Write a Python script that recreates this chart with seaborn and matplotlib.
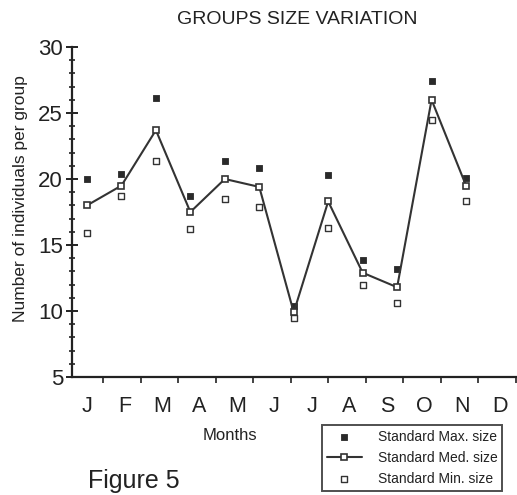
import numpy as np
import pandas as pd
import seaborn as sns
import matplotlib.pyplot as plt
from matplotlib.ticker import MultipleLocator, FixedLocator

# values
months = ["J", "F", "M", "A", "M", "J", "J", "A", "S", "O", "N", "D"]
max_size = [20.0, 20.4, 26.1, 18.7, 21.4, 20.8, 10.4, 20.3, 13.9, 13.2, 27.4, 20.1]
med_size = [18.0, 19.5, 23.7, 17.5, 20.0, 19.4, 9.9, 18.3, 12.9, 11.8, 26.0, 19.5]
min_size = [15.9, 18.7, 21.4, 16.2, 18.5, 17.9, 9.5, 16.3, 12.0, 10.6, 24.5, 18.3]

df = pd.DataFrame(
    {
        "idx": np.arange(len(months)),
        "max": max_size,
        "med": med_size,
        "min": min_size,
    }
)

sns.set_style("ticks")
plt.rcParams["font.family"] = ["Liberation Sans", "DejaVu Sans"]

ink = "#222222"

fig = plt.figure(figsize=(5.17, 4.95), dpi=100)
ax = fig.add_axes([72 / 517, 1 - 377 / 495, 444 / 517, 330 / 495])

# month axis (labels sit on a slightly wider grid than the points)
ax.set_xlim(-0.4, 11.44)
ax.set_ylim(5, 30)
ax.set_xticks(range(len(months)))
ax.set_xticklabels(months, fontsize=15.5, color=ink)
ax.xaxis.set_minor_locator(FixedLocator([i + 0.43 for i in range(12)]))
ax.tick_params(axis="x", which="major", length=0, pad=14)
ax.tick_params(axis="x", which="minor", length=4, width=1.2, direction="out", color=ink)

ax.yaxis.set_major_locator(MultipleLocator(5))
ax.yaxis.set_minor_locator(MultipleLocator(1))
ax.tick_params(axis="y", which="major", length=9, width=1.4, direction="inout",
               labelsize=16, pad=2, color=ink, labelcolor=ink)
ax.tick_params(axis="y", which="minor", length=5, width=1.2, direction="inout", color=ink)

for s in ["top", "right"]:
    ax.spines[s].set_visible(False)
for s in ["left", "bottom"]:
    ax.spines[s].set_linewidth(1.6)
    ax.spines[s].set_color(ink)

ax.set_xlabel("Months", fontsize=12, color=ink)
ax.xaxis.set_label_coords(0.356, -0.155)
ax.set_ylabel("Number of individuals per group", fontsize=12.5, color=ink)
ax.yaxis.set_label_coords(-0.1, 0.54)

# data axis
axd = ax.twiny()
axd.set_xlim(-0.435, 12.45)
axd.set_xticks([])
for s in axd.spines.values():
    s.set_visible(False)

sns.scatterplot(data=df, x="idx", y="max", ax=axd, marker="s", s=22,
                color="#2a2a2a", edgecolor="#2a2a2a", linewidth=0.6,
                label="Standard Max. size")
sns.lineplot(data=df, x="idx", y="med", ax=axd, color="#333333", linewidth=1.5,
             marker="s", markersize=5, markerfacecolor="white",
             markeredgecolor="#333333", markeredgewidth=1.2,
             label="Standard Med. size")
sns.scatterplot(data=df, x="idx", y="min", ax=axd, marker="s", s=22,
                facecolor="white", edgecolor="#333333", linewidth=1.0,
                label="Standard Min. size")
axd.set_xlabel("")
axd.set_ylabel("")
axd.get_legend().remove()

handles, labels = axd.get_legend_handles_labels()
leg = fig.legend(handles, labels, loc="upper left",
                 bbox_to_anchor=(322 / 517, 1 - 425 / 495),
                 fontsize=10, frameon=True, fancybox=False,
                 handlelength=2.5, handletextpad=1.15, labelspacing=0.5,
                 borderpad=0.35, borderaxespad=0)
leg.get_frame().set_edgecolor(ink)
leg.get_frame().set_linewidth(1.4)
for t in leg.get_texts():
    t.set_color(ink)

fig.text(297 / 517, 1 - 20 / 495, "GROUPS SIZE VARIATION", ha="center",
         va="center", fontsize=14, color=ink)
fig.text(88 / 517, 1 - 481 / 495, "Figure 5", ha="left", va="center",
         fontsize=18, color=ink)

fig.savefig("out.png", dpi=100)
